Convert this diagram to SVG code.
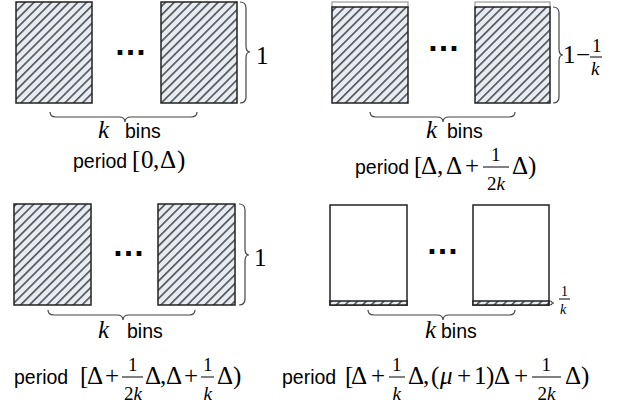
<svg xmlns="http://www.w3.org/2000/svg" width="619" height="407" viewBox="0 0 619 407">
<defs>
<pattern id="hatch" patternUnits="userSpaceOnUse" width="6.2" height="6.2" patternTransform="rotate(45)">
<rect width="6.2" height="6.2" fill="#e7ebf3"/>
<line x1="0.8" y1="-1" x2="0.8" y2="8" stroke="#555" stroke-width="1.7"/>
</pattern>
</defs>
<style>
.bin{fill:url(#hatch);stroke:#222;stroke-width:1.5}
.empty{fill:#fff;stroke:#222;stroke-width:1.5}
.topline{fill:#fff;stroke:#999;stroke-width:1.2}
.brace{fill:none;stroke:#444;stroke-width:1.2}
.sans{font-family:"Liberation Sans",Arial,sans-serif;font-size:19.5px;fill:#000}
.ser{font-family:"Liberation Serif","Times New Roman",serif;font-size:25px;fill:#000}
.it{font-style:italic}
.frac{font-family:"Liberation Serif","Times New Roman",serif;font-size:19px;fill:#000}
.small{font-family:"Liberation Serif","Times New Roman",serif;font-size:14px;fill:#000}
.dots{font-family:"Liberation Sans",Arial,sans-serif;font-size:33px;font-weight:bold;fill:#000}
.bar{stroke:#000;stroke-width:1}
</style>

<g id="panel-top-left">
<rect class="bin" x="16" y="2" width="76" height="101"/>
<rect class="bin" x="161" y="2" width="76" height="101"/>
<text class="dots" x="114" y="55">…</text>
<text class="ser" x="256" y="64" font-size="20">1</text>
<text class="ser it" x="98" y="138" font-size="23">k</text>
<text class="sans" x="125" y="138">bins</text>
<text class="sans" x="73" y="168">period</text>
<text class="ser" x="132 141 153 160 177" y="168">[0,Δ)</text>
</g>

<g id="panel-top-right">
<rect class="topline" x="332" y="2" width="76" height="6"/>
<rect class="bin" x="332" y="7" width="76" height="96"/>
<rect class="topline" x="475" y="2" width="75" height="6"/>
<rect class="bin" x="475" y="7" width="75" height="96"/>
<text class="dots" x="427" y="51">…</text>
<text class="ser" x="563 576" y="63" font-size="20">1−</text>
<line class="bar" x1="590" y1="57" x2="602" y2="57"/>
<text class="frac" x="592" y="52" font-size="16">1</text>
<text class="frac it" x="591" y="75" font-size="17">k</text>
<text class="ser it" x="426" y="138" font-size="23">k</text>
<text class="sans" x="447" y="138">bins</text>
<text class="sans" x="355" y="174">period</text>
<text class="ser" x="414 421 437 446 465" y="174">[Δ,Δ+</text>
<line class="bar" x1="483" y1="167" x2="509" y2="167"/>
<text class="frac" x="491" y="161">1</text>
<text class="frac" x="487" y="190">2<tspan class="it">k</tspan></text>
<text class="ser" x="512 528" y="174">Δ)</text>
</g>

<g id="panel-bottom-left">
<rect class="bin" x="14" y="204" width="77" height="101"/>
<rect class="bin" x="158" y="204" width="77" height="101"/>
<text class="dots" x="112" y="256">…</text>
<text class="ser" x="254" y="266" font-size="20">1</text>
<text class="ser it" x="98" y="338" font-size="23">k</text>
<text class="sans" x="127" y="338">bins</text>
<text class="sans" x="14" y="384">period</text>
<text class="ser" x="80 87 105" y="384">[Δ+</text>
<line class="bar" x1="122" y1="377" x2="143" y2="377"/>
<text class="frac" x="128" y="371">1</text>
<text class="frac" x="124" y="400">2<tspan class="it">k</tspan></text>
<text class="ser" x="145 160 166 184" y="384">Δ,Δ+</text>
<line class="bar" x1="201" y1="377" x2="214" y2="377"/>
<text class="frac" x="203" y="371">1</text>
<text class="frac it" x="203.5" y="400">k</text>
<text class="ser" x="217 233" y="384">Δ)</text>
</g>

<g id="panel-bottom-right">
<rect class="empty" x="330" y="205" width="77" height="100"/>
<rect class="bin" x="330" y="301" width="77" height="4"/>
<rect class="empty" x="473" y="205" width="76" height="100"/>
<rect class="bin" x="473" y="301" width="76" height="4"/>
<text class="dots" x="426" y="254">…</text>
<line class="bar" x1="559" y1="299" x2="570" y2="299" stroke-width="0.8"/>
<text class="small" x="561" y="296">1</text>
<text class="small it" x="560" y="314">k</text>
<text class="ser it" x="425" y="338" font-size="23">k</text>
<text class="sans" x="441" y="338">bins</text>
<text class="sans" x="282" y="384">period</text>
<text class="ser" x="345 351 371" y="384">[Δ+</text>
<line class="bar" x1="389" y1="377" x2="405" y2="377"/>
<text class="frac" x="392" y="371">1</text>
<text class="frac it" x="392.5" y="400">k</text>
<text class="ser" x="408 423 431" y="384">Δ,(</text>
<text class="ser it" x="440" y="384">μ</text>
<text class="ser" x="457 474 486 494 514" y="384">+1)Δ+</text>
<line class="bar" x1="532" y1="377" x2="561" y2="377"/>
<text class="frac" x="541.5" y="371">1</text>
<text class="frac" x="537.5" y="400">2<tspan class="it">k</tspan></text>
<text class="ser" x="565 581" y="384">Δ)</text>
</g>

<g id="connectors">
<path class="brace" d="M240,2 Q246,2 246,8 L246,46 Q246,52 250,52 Q246,52 246,58 L246,97 Q246,103 240,103"/>
<path class="brace" d="M50,112 Q50,117 56,117 L119,117 Q125,117 125,122 Q125,117 131,117 L191,117 Q197,117 197,112"/>
<path class="brace" d="M553,7 Q559,7 559,13 L559,49 Q559,55 563,55 Q559,55 559,61 L559,97 Q559,103 553,103"/>
<path class="brace" d="M370,112 Q370,117 376,117 L437,117 Q443,117 443,122 Q443,117 449,117 L509,117 Q515,117 515,112"/>
<path class="brace" d="M239,204 Q245,204 245,210 L245,249 Q245,255 249,255 Q245,255 245,261 L245,299 Q245,305 239,305"/>
<path class="brace" d="M48,310 Q48,315 54,315 L117,315 Q123,315 123,320 Q123,315 129,315 L189,315 Q195,315 195,310"/>
<path class="brace" d="M550,301 Q552,301 552,302.5 Q552,303 554,303 Q552,303 552,303.5 Q552,305 550,305"/>
<path class="brace" d="M368,310 Q368,315 374,315 L437,315 Q443,315 443,320 Q443,315 449,315 L509,315 Q515,315 515,310"/>
</g>
</svg>
